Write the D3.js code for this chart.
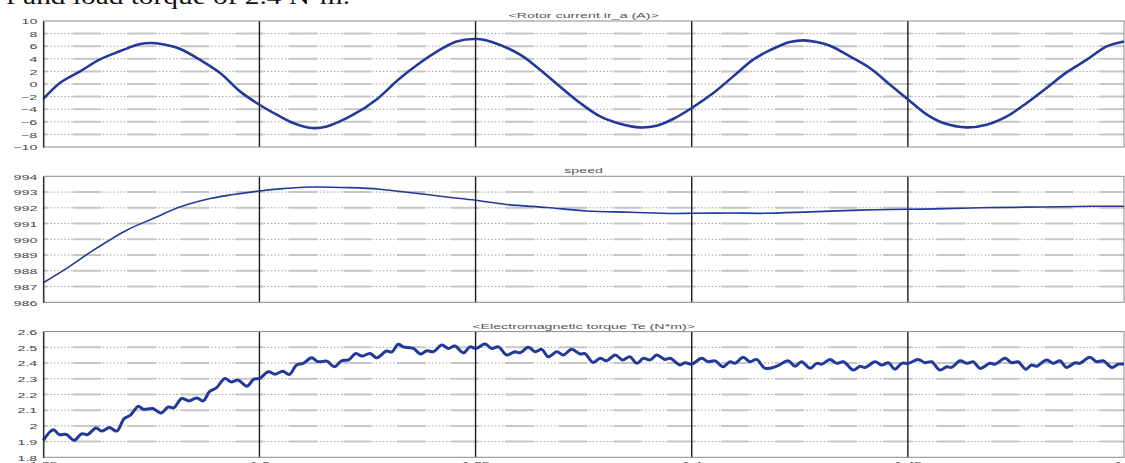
<!DOCTYPE html>
<html lang="en">
<head>
  <meta charset="UTF-8">
  <title>Rotor current, speed and torque</title>
  <script src="https://d3js.org/d3.v7.min.js"></script>
  <style>
    body { margin: 0; background: #fff; }
    text { font-family: "Liberation Sans", Arial, sans-serif; }
  </style>
</head>
<body>
  <svg id="chart" width="1125" height="463"></svg>

  <script>
    // x axis (time, s)
    const xTicks = [1.25, 1.3, 1.35, 1.4, 1.45, 1.5];

    // rotor current ir_a (A)
    const rotorT = [1.2500, 1.2539, 1.2585, 1.2631, 1.2677, 1.2724, 1.2751, 1.2785, 1.2816, 1.2862,
      1.2909, 1.2955, 1.3000, 1.3040, 1.3078, 1.3121, 1.3156, 1.3217, 1.3271, 1.3323,
      1.3371, 1.3418, 1.3456, 1.3503, 1.3541, 1.3603, 1.3649, 1.3695, 1.3742, 1.3788,
      1.3834, 1.3880, 1.3919, 1.3957, 1.4000, 1.4050, 1.4096, 1.4142, 1.4173, 1.4204,
      1.4227, 1.4258, 1.4289, 1.4320, 1.4366, 1.4412, 1.4459, 1.4501, 1.4544, 1.4582,
      1.4636, 1.4682, 1.4729, 1.4775, 1.4821, 1.4867, 1.4914, 1.4960, 1.5000];
    const rotorI = [-2.38, 0.2, 2.0, 3.9, 5.2, 6.35, 6.5, 6.2, 5.6, 3.86,
      1.75, -1.17, -3.29, -4.87, -6.19, -6.98, -6.73, -4.87, -2.45, 0.8,
      3.33, 5.44, 6.76, 7.14, 6.6, 4.65, 2.27, -0.38, -3.02, -5.14,
      -6.3, -6.89, -6.62, -5.56, -3.81, -1.43, 1.21, 3.86, 5.1, 6.08,
      6.67, 6.92, 6.67, 6.08, 4.38, 2.54, -0.11, -2.49, -4.87, -6.19,
      -6.89, -6.46, -5.14, -3.02, -0.63, 1.84, 3.86, 5.97, 6.76];
    const currentTicks = [-10, -8, -6, -4, -2, 0, 2, 4, 6, 8, 10];

    // speed
    const speedT = [1.2500, 1.2554, 1.2616, 1.2693, 1.2754, 1.2816, 1.2886, 1.2940, 1.3000, 1.3055,
      1.3117, 1.3210, 1.3279, 1.3356, 1.3433, 1.3500, 1.3572, 1.3665, 1.3757, 1.3857,
      1.3957, 1.4000, 1.4089, 1.4166, 1.4274, 1.4389, 1.4500, 1.4567, 1.4698, 1.4813,
      1.4929, 1.5000];
    const speedV = [987.24, 988.15, 989.31, 990.58, 991.32, 992.05, 992.59, 992.84, 993.07, 993.22,
      993.32, 993.28, 993.18, 992.94, 992.69, 992.48, 992.21, 992.02, 991.80, 991.72,
      991.64, 991.65, 991.67, 991.65, 991.74, 991.85, 991.91, 991.93, 992.02, 992.05,
      992.10, 992.10];
    const speedTicks = [986, 987, 988, 989, 990, 991, 992, 993, 994];

    // electromagnetic torque Te (N*m)
    const torqueT = [1.2500, 1.2523, 1.2537, 1.2553, 1.2571, 1.2589, 1.2602, 1.2622, 1.2635, 1.2653,
      1.2670, 1.2687, 1.2701, 1.2720, 1.2731, 1.2753, 1.2772, 1.2789, 1.2802, 1.2820,
      1.2837, 1.2855, 1.2870, 1.2884, 1.2901, 1.2920, 1.2934, 1.2951, 1.2971, 1.2987,
      1.3000, 1.3021, 1.3036, 1.3054, 1.3069, 1.3086, 1.3101, 1.3121, 1.3136, 1.3156,
      1.3173, 1.3190, 1.3206, 1.3223, 1.3237, 1.3256, 1.3271, 1.3294, 1.3306, 1.3321,
      1.3333, 1.3356, 1.3373, 1.3387, 1.3402, 1.3422, 1.3437, 1.3452, 1.3472, 1.3487,
      1.3501, 1.3522, 1.3537, 1.3553, 1.3572, 1.3591, 1.3603, 1.3622, 1.3638, 1.3653,
      1.3668, 1.3688, 1.3703, 1.3722, 1.3742, 1.3753, 1.3772, 1.3788, 1.3803, 1.3823,
      1.3840, 1.3857, 1.3873, 1.3888, 1.3904, 1.3919, 1.3938, 1.3950, 1.3973, 1.3984,
      1.4000, 1.4023, 1.4038, 1.4054, 1.4072, 1.4089, 1.4100, 1.4119, 1.4135, 1.4150,
      1.4170, 1.4197, 1.4223, 1.4239, 1.4254, 1.4274, 1.4289, 1.4301, 1.4320, 1.4335,
      1.4351, 1.4374, 1.4389, 1.4401, 1.4424, 1.4440, 1.4455, 1.4470, 1.4486, 1.4501,
      1.4524, 1.4540, 1.4555, 1.4574, 1.4590, 1.4601, 1.4621, 1.4636, 1.4651, 1.4667,
      1.4690, 1.4702, 1.4725, 1.4740, 1.4755, 1.4773, 1.4786, 1.4798, 1.4821, 1.4836,
      1.4852, 1.4867, 1.4887, 1.4898, 1.4921, 1.4937, 1.4952, 1.4972, 1.4987, 1.5000];
    const torqueV = [1.908, 1.976, 1.944, 1.946, 1.908, 1.950, 1.944, 1.986, 1.967, 1.989,
      1.967, 2.046, 2.067, 2.125, 2.106, 2.110, 2.082, 2.120, 2.115, 2.174,
      2.159, 2.178, 2.159, 2.216, 2.244, 2.302, 2.280, 2.291, 2.253, 2.297,
      2.302, 2.344, 2.329, 2.348, 2.327, 2.387, 2.398, 2.433, 2.408, 2.412,
      2.376, 2.414, 2.420, 2.461, 2.444, 2.461, 2.433, 2.476, 2.470, 2.519,
      2.503, 2.493, 2.457, 2.478, 2.472, 2.514, 2.493, 2.508, 2.465, 2.503,
      2.493, 2.521, 2.493, 2.503, 2.451, 2.472, 2.465, 2.500, 2.472, 2.487,
      2.440, 2.472, 2.451, 2.487, 2.457, 2.460, 2.404, 2.430, 2.414, 2.451,
      2.420, 2.440, 2.398, 2.430, 2.420, 2.451, 2.423, 2.430, 2.387, 2.402,
      2.393, 2.430, 2.408, 2.414, 2.376, 2.408, 2.398, 2.436, 2.408, 2.423,
      2.366, 2.380, 2.414, 2.380, 2.408, 2.366, 2.398, 2.393, 2.423, 2.398,
      2.408, 2.355, 2.380, 2.372, 2.408, 2.387, 2.402, 2.361, 2.398, 2.398,
      2.423, 2.402, 2.408, 2.355, 2.376, 2.372, 2.414, 2.398, 2.408, 2.366,
      2.398, 2.393, 2.430, 2.402, 2.408, 2.361, 2.387, 2.380, 2.420, 2.398,
      2.414, 2.372, 2.402, 2.398, 2.436, 2.408, 2.414, 2.372, 2.393, 2.393];
    const torqueTicks = [1.8, 1.9, 2, 2.1, 2.2, 2.3, 2.4, 2.5, 2.6];

    const lineColor = "#22399a";
    const svg = d3.select("#chart");

    const x = d3.scaleLinear().domain([1.25, 1.5]).range([43.3, 1124]);

    // clipped caption line left over from the page above the figure
    svg.append("text")
       .attr("x", 6)
       .attr("y", 3.5)
       .attr("textLength", 344)
       .attr("lengthAdjust", "spacingAndGlyphs")
       .style("font-family", "'Liberation Serif', 'Times New Roman', serif")
       .style("font-size", "23px")
       .style("fill", "#111")
       .text("f and load torque of 2.4 N·m.");

    const panels = [
      { title: "<Rotor current ir_a (A)>", top: 21, bottom: 147, domain: [-10, 10], ticks: currentTicks,
        t: rotorT, v: rotorI, width: 2.6, titleY: 17.5 },
      { title: "speed", top: 176.3, bottom: 302.3, domain: [986, 994], ticks: speedTicks,
        t: speedT, v: speedV, width: 1.6, titleY: 173 },
      { title: "<Electromagnetic torque Te (N*m)>", top: 331.6, bottom: 457.3, domain: [1.8, 2.6], ticks: torqueTicks,
        t: torqueT, v: torqueV, width: 3, titleY: 328.5 }
    ];

    panels.forEach((p, idx) => {
      const y = d3.scaleLinear().domain(p.domain).range([p.bottom, p.top]);
      const g = svg.append("g");

      // horizontal grid: dotted underlay + light solid dashes
      const inner = p.ticks.slice(1, -1);
      g.selectAll(".hdot").data(inner).enter().append("line")
       .attr("x1", x(1.25)).attr("x2", x(1.5))
       .attr("y1", d => y(d)).attr("y2", d => y(d))
       .attr("stroke", "#a0a0a0").attr("stroke-width", 1)
       .attr("stroke-dasharray", "1.5,2");
      g.selectAll(".hsol").data(inner).enter().append("line")
       .attr("x1", x(1.25)).attr("x2", x(1.5))
       .attr("y1", d => y(d)).attr("y2", d => y(d))
       .attr("stroke", "#c6c6c6").attr("stroke-width", 2)
       .attr("stroke-dasharray", "28,26").attr("stroke-dashoffset", 24);

      // vertical grid lines
      g.selectAll(".vg").data(xTicks.slice(1, -1)).enter().append("line")
       .attr("x1", d => x(d)).attr("x2", d => x(d))
       .attr("y1", p.top).attr("y2", p.bottom)
       .attr("stroke", "#1a1a1a").attr("stroke-width", 1.4);

      // frame
      g.append("rect")
       .attr("x", x(1.25)).attr("y", p.top)
       .attr("width", x(1.5) - x(1.25)).attr("height", p.bottom - p.top)
       .attr("fill", "none").attr("stroke", "#8a8a8a").attr("stroke-width", 1);

      // curve
      const line = d3.line()
        .x((d, i) => x(p.t[i]))
        .y(d => y(d))
        .curve(d3.curveCatmullRom.alpha(0.5));
      g.append("path")
       .datum(p.v)
       .attr("d", line)
       .attr("fill", "none")
       .attr("stroke", lineColor)
       .attr("stroke-width", p.width)
       .attr("stroke-linejoin", "round");

      // y axis
      const yAxis = g.append("g")
        .attr("transform", `translate(${x(1.25)},0)`)
        .call(d3.axisLeft(y).tickValues(p.ticks).tickSize(0).tickFormat(d3.format("")));
      yAxis.select(".domain").attr("stroke", "#222").attr("stroke-width", 1.3);
      yAxis.selectAll("text")
        .attr("x", 0).attr("dy", "0.36em")
        .attr("transform", "translate(-6,0) scale(1.9,1)")
        .style("font-size", "7.5px")
        .style("fill", "#444");

      // panel title
      svg.append("text")
         .attr("transform", `translate(${(x(1.25) + x(1.5)) / 2},${p.titleY}) scale(1.9,1)`)
         .attr("text-anchor", "middle")
         .style("font-size", "7.5px")
         .style("fill", "#555")
         .text(p.title);

      // x axis labels under the last panel
      if (idx === panels.length - 1) {
        const xAxis = g.append("g")
          .attr("transform", `translate(0,${p.bottom})`)
          .call(d3.axisBottom(x).tickValues(xTicks).tickSize(0).tickFormat(d3.format("")));
        xAxis.select(".domain").remove();
        xAxis.selectAll("text")
          .attr("y", 0).attr("dy", 0)
          .attr("transform", "translate(0,9.2) scale(1.9,1)")
          .style("font-size", "7.5px")
          .style("fill", "#444");
      }
    });
  </script>
</body>
</html>
